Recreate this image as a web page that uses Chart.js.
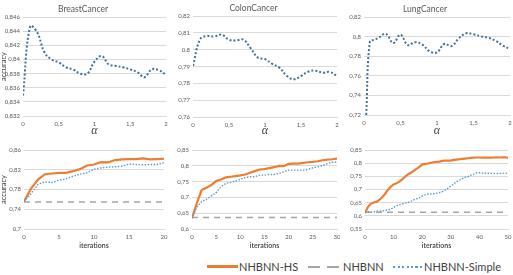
<!DOCTYPE html>
<html>
<head>
<meta charset="utf-8">
<script src="https://cdn.jsdelivr.net/npm/chart.js@4.4.0/dist/chart.umd.min.js"></script>
<style>
  body { margin: 0; background: #fff; width: 513px; height: 275px; position: relative; overflow: hidden; font-family: Lato, sans-serif; }
  .box { position: absolute; }
  .box canvas { display: block; }
  .sw { position: absolute; }
  .lt { position: absolute; font-size: 11px; line-height: 12px; color: #404040; white-space: nowrap; }
</style>
</head>
<body>
<div class="box" style="left:0;top:0"><canvas id="topBreast" width="170" height="138"></canvas></div>
<div class="box" style="left:170px;top:0"><canvas id="topColon" width="170" height="138"></canvas></div>
<div class="box" style="left:340px;top:0"><canvas id="topLung" width="173" height="138"></canvas></div>
<div class="box" style="left:0;top:140px"><canvas id="botBreast" width="170" height="112"></canvas></div>
<div class="box" style="left:170px;top:140px"><canvas id="botColon" width="170" height="112"></canvas></div>
<div class="box" style="left:340px;top:140px"><canvas id="botLung" width="173" height="112"></canvas></div>

<div class="sw" style="left:207px;top:265px;width:31px;height:3px;background:#ed7d31"></div>
<div class="lt" style="left:239px;top:261px">NHBNN-HS</div>
<div class="sw" style="left:308px;top:266px;width:32px;height:2px;background:repeating-linear-gradient(to right,#a5a5a5 0 12px,transparent 12px 19px)"></div>
<div class="lt" style="left:343px;top:261px">NHBNN</div>
<div class="sw" style="left:393px;top:266px;width:30px;height:2px;background:repeating-linear-gradient(to right,#5b9bd5 0 2px,transparent 2px 4.5px)"></div>
<div class="lt" style="left:424px;top:261px">NHBNN-Simple</div>

<script>
// top row: accuracy vs alpha
var alphaBreast = [0, 0.1, 0.2, 0.3, 0.4, 0.5, 0.6, 0.7, 0.8, 0.9, 1, 1.1, 1.2, 1.3, 1.4, 1.5, 1.6, 1.7, 1.8, 1.9, 2];
var accBreast = [0.8349, 0.8447, 0.8438, 0.8410, 0.8400, 0.8396, 0.8389, 0.8386, 0.8380, 0.8380, 0.8397,
                 0.8405, 0.8393, 0.8391, 0.8389, 0.8386, 0.8382, 0.8375, 0.8386, 0.8385, 0.8378];

var alphaColon = [0, 0.1, 0.2, 0.3, 0.4, 0.5, 0.6, 0.7, 0.8, 0.9, 1, 1.1, 1.2, 1.3, 1.4, 1.5, 1.6, 1.7, 1.8, 1.9, 2];
var accColon = [0.7904, 0.8064, 0.8082, 0.8080, 0.8090, 0.8060, 0.8056, 0.8060, 0.8010, 0.7954, 0.7944,
                0.7916, 0.7894, 0.7846, 0.7824, 0.7844, 0.7870, 0.7876, 0.7864, 0.7868, 0.7844];

var alphaLung = [0.03, 0.08, 0.15, 0.2, 0.3, 0.4, 0.5, 0.6, 0.7, 0.8, 0.9, 1, 1.1, 1.2, 1.3, 1.4, 1.5, 1.6, 1.7, 1.8, 1.9, 2];
var accLung = [0.72, 0.795, 0.797, 0.799, 0.803, 0.7935, 0.8022, 0.7915, 0.7945, 0.792, 0.785, 0.784,
               0.7926, 0.7905, 0.7985, 0.8035, 0.8025, 0.8005, 0.799, 0.796, 0.791, 0.7875];

// bottom row: accuracy vs iterations
var itersBreast = [0, 1, 2, 3, 4, 5, 6, 7, 8, 9, 10, 11, 12, 13, 14, 15, 16, 17, 18, 19, 20];
var hsBreast = [0.7558, 0.7817, 0.8001, 0.8110, 0.8124, 0.8137, 0.8137, 0.8171, 0.8212, 0.8287, 0.8307,
                0.8355, 0.8348, 0.8396, 0.8410, 0.8416, 0.8416, 0.8430, 0.8410, 0.8416, 0.8423];
var simpleBreast = [0.7558, 0.7715, 0.7906, 0.7953, 0.7940, 0.7987, 0.8015, 0.8069, 0.8110, 0.8137, 0.8212,
                    0.8239, 0.8253, 0.8260, 0.8273, 0.8314, 0.8307, 0.8300, 0.8307, 0.8307, 0.8341];
var baseBreast = 0.7545;

var itersColon = [0, 1, 2, 3, 4, 5, 6, 7, 8, 9, 10, 11, 12, 13, 14, 15, 16, 17, 18, 19, 20,
                  21, 22, 23, 24, 25, 26, 27, 28, 29, 30];
var hsColon = [0.6345, 0.6816, 0.7234, 0.7308, 0.7391, 0.7517, 0.7569, 0.7632, 0.7653, 0.7674, 0.7695,
               0.7726, 0.7778, 0.7831, 0.7883, 0.7893, 0.7925, 0.7956, 0.7998, 0.7987, 0.8061,
               0.8071, 0.8071, 0.8092, 0.8113, 0.8123, 0.8144, 0.8176, 0.8197, 0.8207, 0.8228];
var simpleColon = [0.6345, 0.6690, 0.6868, 0.6941, 0.7046, 0.7151, 0.7339, 0.7444, 0.7475, 0.7517, 0.7569,
                   0.7632, 0.7653, 0.7653, 0.7705, 0.7705, 0.7726, 0.7726, 0.7757, 0.7810, 0.7862,
                   0.7862, 0.7862, 0.7862, 0.7883, 0.7935, 0.7967, 0.8008, 0.8071, 0.8113, 0.8113];
var baseColon = 0.636;

var itersLung = [0, 1, 2, 3, 4, 5, 6, 7, 8, 9, 10, 11, 12, 13, 14, 15, 16, 17, 18, 19, 20,
                 21, 22, 23, 24, 25, 26, 27, 28, 29, 30, 31, 32, 33, 34, 35, 36, 37, 38, 39, 40,
                 41, 42, 43, 44, 45, 46, 47, 48, 49, 50];
var hsLung = [0.611, 0.633, 0.6455, 0.6505, 0.653, 0.6605, 0.6706, 0.6831, 0.6982, 0.7107, 0.7195,
              0.7233, 0.7296, 0.7383, 0.7484, 0.7572, 0.7634, 0.771, 0.7785, 0.786, 0.7948,
              0.7973, 0.7986, 0.8011, 0.8036, 0.8048, 0.8061, 0.8086, 0.8098, 0.8098, 0.8098,
              0.8124, 0.8136, 0.8149, 0.8161, 0.8174, 0.8186, 0.8199, 0.8211, 0.8215, 0.8215,
              0.8212, 0.8215, 0.8213, 0.8212, 0.8215, 0.8218, 0.8216, 0.822, 0.8218, 0.8205];
var simpleLung = [0.611, 0.6154, 0.614, 0.615, 0.6179, 0.619, 0.618, 0.62, 0.6229, 0.625, 0.632,
                  0.638, 0.642, 0.6455, 0.648, 0.6505, 0.6543, 0.6605, 0.6643, 0.668, 0.6756,
                  0.6794, 0.683, 0.683, 0.684, 0.6856, 0.688, 0.692, 0.698, 0.7044, 0.7133,
                  0.7208, 0.7296, 0.7358, 0.7408, 0.7459, 0.7484, 0.7546, 0.7584, 0.7634, 0.7634,
                  0.762, 0.7615, 0.762, 0.761, 0.7612, 0.7608, 0.761, 0.7612, 0.761, 0.763];
var baseLung = 0.614;

var TICK_COLOR = '#595959';
var GRID_COLOR = '#d9d9d9';

function fmt(v) {
  return String(Math.round(v * 1000) / 1000).replace('.', ',');
}

function pairs(xs, ys) {
  var out = [];
  for (var i = 0; i < xs.length; i++) out.push({ x: xs[i], y: ys[i] });
  return out;
}

function makeChart(id, c) {
  new Chart(document.getElementById(id), {
    type: 'line',
    data: { datasets: c.datasets },
    options: {
      responsive: false,
      animation: false,
      events: [],
      layout: { padding: c.pad },
      elements: { point: { radius: 0 } },
      plugins: {
        legend: { display: false },
        tooltip: { enabled: false },
        title: c.title ? {
          display: true, text: c.title, color: TICK_COLOR,
          font: { family: 'Lato', size: 8.5, weight: 'normal' },
          padding: { top: 2, bottom: 3 }
        } : { display: false }
      },
      scales: {
        x: {
          type: 'linear', min: c.xMin, max: c.xMax,
          ticks: { stepSize: c.xStep, callback: fmt, color: TICK_COLOR, font: { family: 'Lato', size: 6 }, padding: 4, maxRotation: 0, autoSkip: false },
          grid: { display: false, drawTicks: false },
          border: { display: true, color: GRID_COLOR },
          title: c.xTitle,
          afterFit: function (s) { s.height = c.xh; s.paddingLeft = 0; s.paddingRight = 0; }
        },
        y: {
          min: c.yMin, max: c.yMax,
          ticks: { stepSize: c.yStep, callback: fmt, color: TICK_COLOR, font: { family: 'Lato', size: 6 }, padding: 3 },
          grid: { color: GRID_COLOR, drawTicks: false },
          border: { display: false },
          title: c.yTitle ? {
            display: true, text: 'accuracy', color: '#404040',
            font: { family: 'Lato', size: 7.5, lineHeight: 1 }, padding: 0
          } : { display: false },
          afterFit: function (s) { s.width = c.yw; s.paddingTop = 0; s.paddingBottom = 0; }
        }
      }
    }
  });
}

var alphaTitle = { display: true, text: 'α', color: '#404040', font: { family: 'Liberation Serif', size: 12, style: 'italic' }, padding: 0 };
var iterTitle = { display: true, text: 'iterations', color: '#404040', font: { family: 'Lato', size: 7, weight: '600' }, padding: { top: 0, bottom: 2 } };

function alphaSet(xs, ys) {
  return [{ data: pairs(xs, ys), borderColor: '#41719c', borderWidth: 2, borderDash: [2, 2], tension: 0.4, fill: false }];
}

function iterSets(xs, hs, simple, base) {
  var last = xs[xs.length - 1];
  return [
    { data: pairs(xs, simple), borderColor: '#5b9bd5', borderWidth: 1.4, borderDash: [1.5, 1.5], tension: 0, fill: false },
    { data: [{ x: 0, y: base }, { x: last, y: base }], borderColor: '#a5a5a5', borderWidth: 1.5, borderDash: [6, 5], fill: false },
    { data: pairs(xs, hs), borderColor: '#ed7d31', borderWidth: 2.2, tension: 0, fill: false }
  ];
}

makeChart('topBreast', {
  title: 'BreastCancer', datasets: alphaSet(alphaBreast, accBreast),
  xMin: 0, xMax: 2, xStep: 0.5, yMin: 0.832, yMax: 0.846, yStep: 0.002,
  xTitle: alphaTitle, yTitle: true, xh: 22, yw: 23, pad: { top: 2, right: 4, left: 0, bottom: 0 }
});
makeChart('topColon', {
  title: 'ColonCancer', datasets: alphaSet(alphaColon, accColon),
  xMin: 0, xMax: 2, xStep: 0.5, yMin: 0.76, yMax: 0.82, yStep: 0.01,
  xTitle: alphaTitle, yTitle: false, xh: 21, yw: 23, pad: { top: 1, right: 3, left: 0, bottom: 0 }
});
makeChart('topLung', {
  title: 'LungCancer', datasets: alphaSet(alphaLung, accLung),
  xMin: 0, xMax: 2, xStep: 0.5, yMin: 0.72, yMax: 0.82, yStep: 0.02,
  xTitle: alphaTitle, yTitle: false, xh: 23, yw: 24, pad: { top: 2, right: 3, left: 0, bottom: 0 }
});

makeChart('botBreast', {
  datasets: iterSets(itersBreast, hsBreast, simpleBreast, baseBreast),
  xMin: 0, xMax: 20, xStep: 5, yMin: 0.7, yMax: 0.86, yStep: 0.04,
  xTitle: iterTitle, yTitle: true, xh: 23, yw: 24, pad: { top: 10, right: 6, left: 0, bottom: 0 }
});
makeChart('botColon', {
  datasets: iterSets(itersColon, hsColon, simpleColon, baseColon),
  xMin: 0, xMax: 30, xStep: 5, yMin: 0.6, yMax: 0.85, yStep: 0.05,
  xTitle: iterTitle, yTitle: false, xh: 23, yw: 22, pad: { top: 10, right: 3, left: 0, bottom: 0 }
});
makeChart('botLung', {
  datasets: iterSets(itersLung, hsLung, simpleLung, baseLung),
  xMin: 0, xMax: 50, xStep: 10, yMin: 0.55, yMax: 0.85, yStep: 0.05,
  xTitle: iterTitle, yTitle: false, xh: 23, yw: 25, pad: { top: 10, right: 5, left: 0, bottom: 0 }
});
</script>
</body>
</html>
